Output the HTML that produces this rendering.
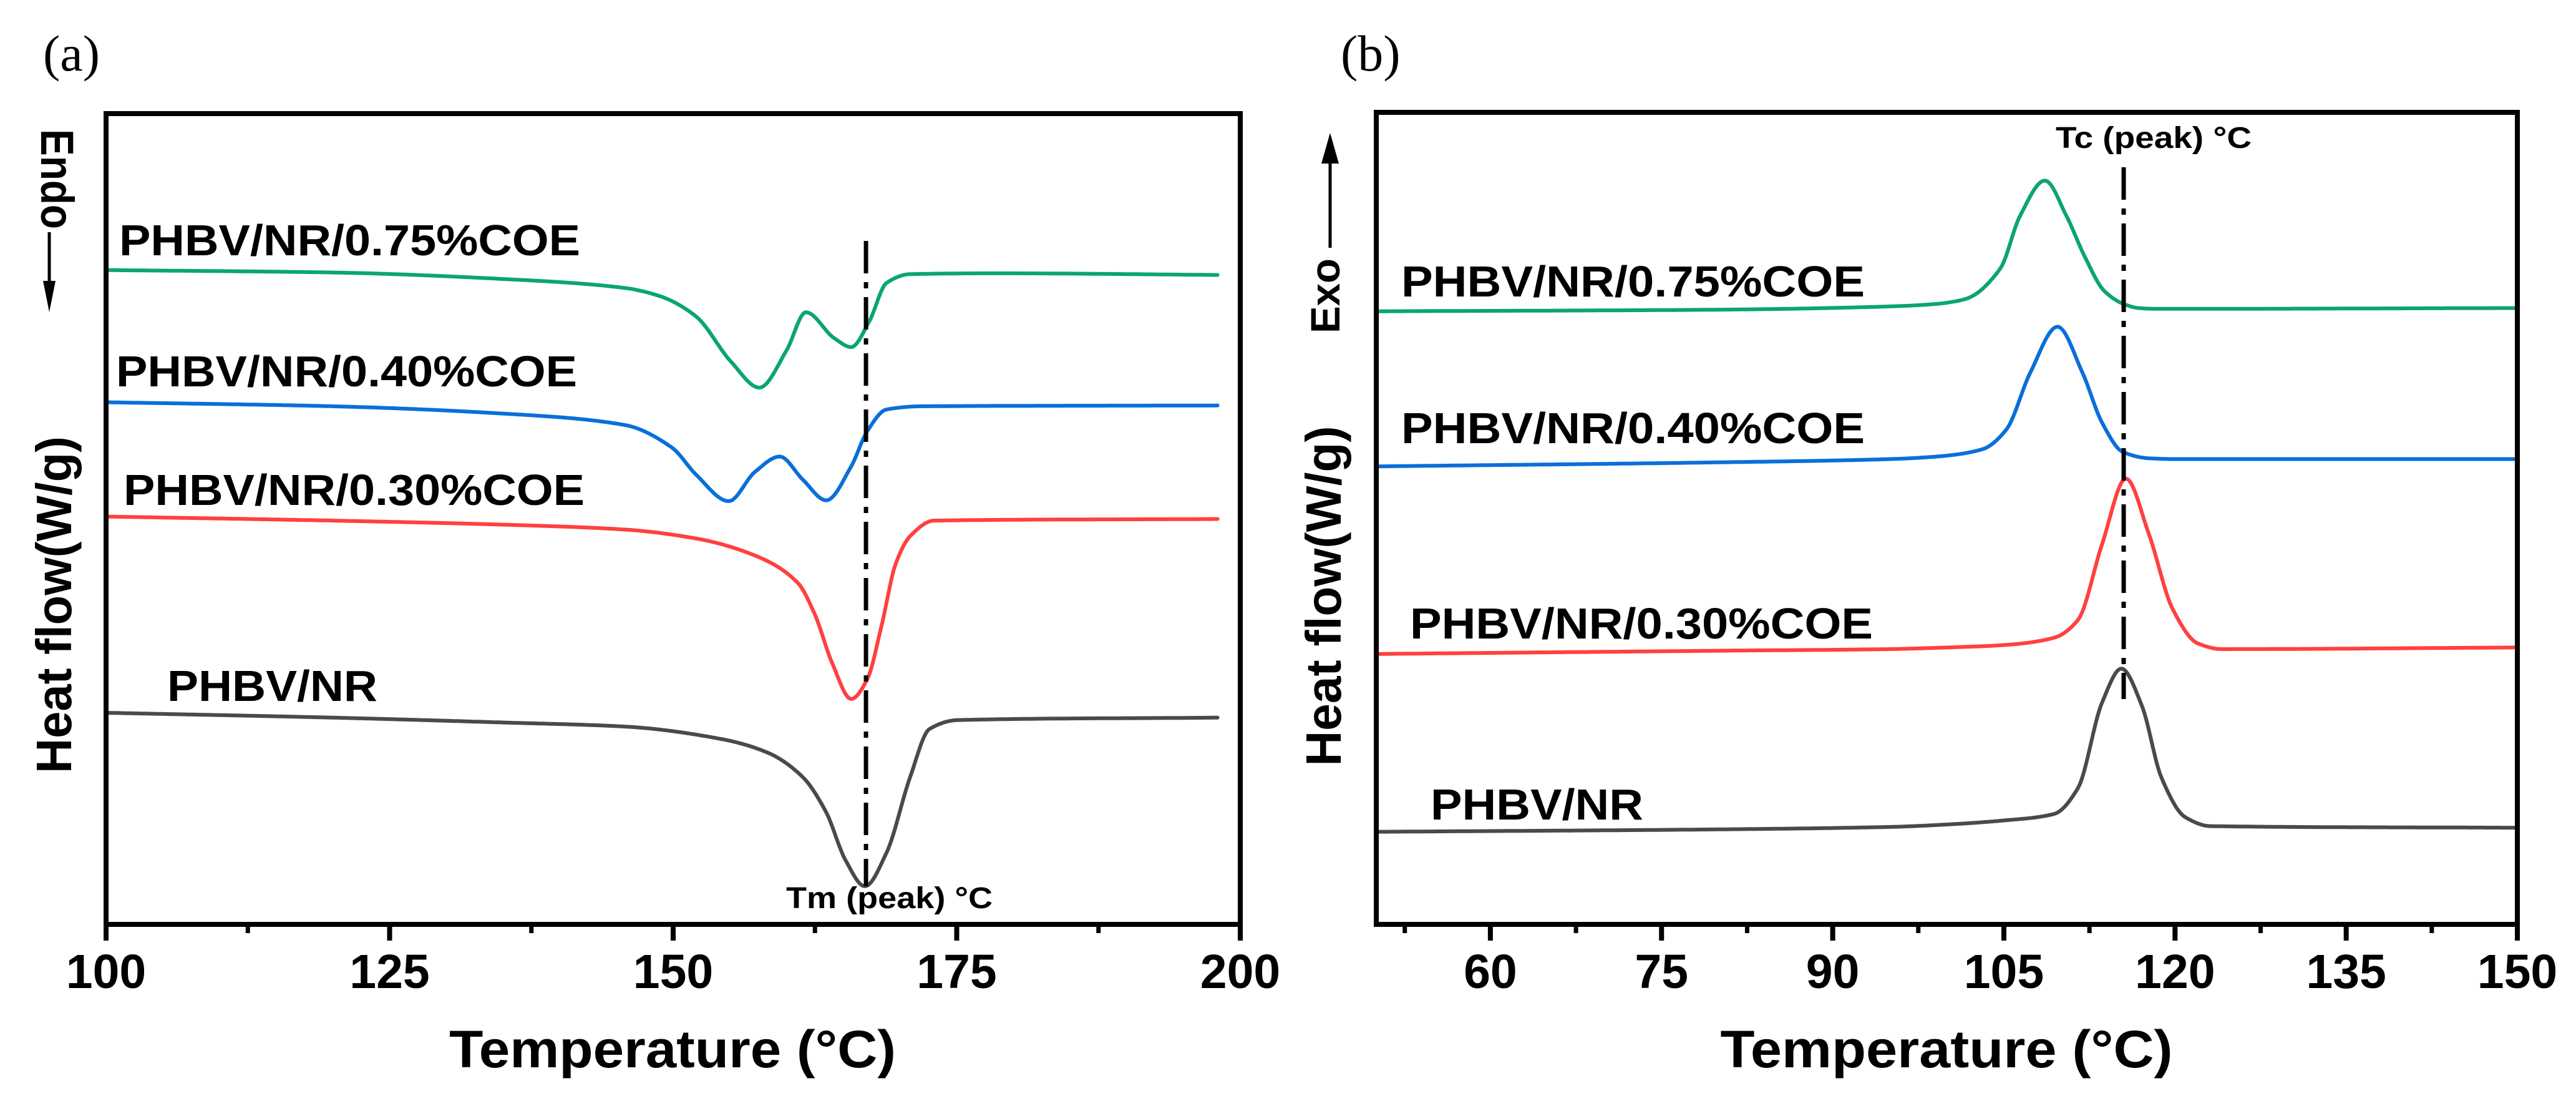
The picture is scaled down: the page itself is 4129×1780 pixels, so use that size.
<!DOCTYPE html>
<html><head><meta charset="utf-8"><style>
html,body{margin:0;padding:0;background:#fff}
svg{display:block}
text{font-family:"Liberation Sans",Arial,sans-serif;font-weight:bold;fill:#000}
</style></head><body>
<svg id="fig" width="4129" height="1780" viewBox="0 0 4129 1780" xmlns="http://www.w3.org/2000/svg">
<text x="69" y="113" style="font-family:'Liberation Serif',serif;font-weight:normal;font-size:82px">(a)</text>
<text x="2149" y="113" style="font-family:'Liberation Serif',serif;font-weight:normal;font-size:82px">(b)</text>
<g id="pa"></g>
<g id="pb"></g>
</svg>
<script>
// ---- Panel (a) melting data ----
const aTicks = [100, 125, 150, 175, 200];
const aMinor = [112.5, 137.5, 162.5, 187.5];
const aGreenT = [100, 120, 135, 145.7, 148.8, 152, 155.1, 157.6, 160, 161.7, 164.2, 165.7, 167.3, 168.8, 170.9, 178.7, 198];
const aGreenV = [80.7, 80.4, 79.6, 78.5, 77.5, 75, 69.4, 66.2, 70.8, 75.5, 72.3, 71.2, 74.4, 79.1, 80.2, 80.3, 80.1];
const aBlueT = [100, 120, 135, 145.7, 149.9, 152, 154.9, 157.2, 159.4, 161.4, 163.5, 165.7, 167.1, 168.8, 171.9, 198];
const aBlueV = [64.4, 63.9, 63.0, 61.6, 58.8, 55.5, 52.2, 55.8, 57.7, 54.9, 52.3, 56.5, 60.8, 63.5, 63.9, 64.0];
const aRedT = [100, 120, 135, 145.7, 152, 157.2, 161, 162.5, 164, 165.7, 167.1, 168.4, 169.6, 170.9, 173, 198];
const aRedV = [50.3, 49.8, 49.3, 48.7, 47.6, 45.5, 42.1, 38.2, 32.3, 27.8, 30.2, 37.0, 44.4, 47.9, 49.8, 50.0];
const aBlackT = [100, 120, 135, 145.7, 154.1, 158.3, 161.4, 163.5, 165.2, 166.9, 168.8, 170.9, 172.6, 175.1, 198];
const aBlackV = [26.1, 25.5, 24.9, 24.4, 22.9, 21.2, 18.2, 13.8, 7.9, 4.7, 8.8, 18.2, 24.1, 25.2, 25.5];
const aTm = 167;
// ---- Panel (b) crystallization data ----
const bTicks = [60, 75, 90, 105, 120, 135, 150];
const bMinor = [52.5, 67.5, 82.5, 97.5, 112.5, 127.5, 142.5];
const bGreenT = [50, 80, 95, 99, 101.6, 104.7, 106.4, 108.6, 110.5, 112.1, 113.8, 115.5, 116.8, 118.5, 150];
const bGreenV = [75.5, 75.7, 76.1, 76.4, 77.0, 80.8, 87.2, 91.6, 87.2, 82.2, 78.0, 76.4, 75.9, 75.8, 75.9];
const bBlueT = [50, 80, 95, 99, 103.1, 105.2, 107.3, 109.7, 111.9, 113.6, 115.4, 117.7, 120, 150];
const bBlueV = [56.4, 56.9, 57.3, 57.6, 58.5, 60.9, 67.9, 73.6, 67.9, 61.8, 58.2, 57.4, 57.3, 57.3];
const bRedT = [50, 80, 95, 100, 105, 109.4, 111.5, 113.6, 115.7, 117.7, 119.8, 122, 124.1, 150];
const bRedV = [33.3, 33.7, 33.9, 34.1, 34.4, 35.3, 37.5, 46.8, 54.9, 48.1, 38.8, 34.6, 33.9, 34.1];
const bBlackT = [50, 80, 95, 100, 105, 109.4, 111.5, 113.6, 115.3, 117.1, 118.8, 120.9, 123.1, 150];
const bBlackV = [11.4, 11.7, 12.0, 12.3, 12.8, 13.6, 16.8, 27.3, 31.5, 26.9, 18.1, 13.2, 12.1, 11.9];
const bTc = 115.5;

const NS = "http://www.w3.org/2000/svg";
function mk(parent, tag, attrs){const e=document.createElementNS(NS,tag);for(const k in attrs)e.setAttribute(k,attrs[k]);parent.appendChild(e);return e;}
// monotone cubic (Fritsch-Carlson) interpolation of v(t)
function monotone(ts, vs){
  const n=ts.length, d=[], m=new Array(n);
  for(let i=0;i<n-1;i++) d.push((vs[i+1]-vs[i])/(ts[i+1]-ts[i]));
  m[0]=d[0]; m[n-1]=d[n-2];
  for(let i=1;i<n-1;i++){
    if(d[i-1]*d[i]<=0) m[i]=0;
    else{const w1=2*(ts[i+1]-ts[i])+(ts[i]-ts[i-1]), w2=(ts[i+1]-ts[i])+2*(ts[i]-ts[i-1]); m[i]=(w1+w2)/(w1/d[i-1]+w2/d[i]);}
  }
  return function(t){
    let i=0; while(i<n-2 && t>ts[i+1]) i++;
    const h=ts[i+1]-ts[i], s=(t-ts[i])/h;
    const h00=2*s*s*s-3*s*s+1, h10=s*s*s-2*s*s+s, h01=-2*s*s*s+3*s*s, h11=s*s*s-s*s;
    return h00*vs[i]+h10*h*m[i]+h01*vs[i+1]+h11*h*m[i+1];
  };
}
function panel(g, o){
  const x=t=>o.x0+(t-o.t0)*(o.x1-o.x0)/(o.t1-o.t0);
  const y=v=>o.y1-v*(o.y1-o.y0)/100;
  const series=[[o.gT,o.gV,"#0aa66e","curve-075-coe"],[o.uT,o.uV,"#0a6fd8","curve-040-coe"],[o.rT,o.rV,"#ff4040","curve-030-coe"],[o.kT,o.kV,"#4a4a4a","curve-phbv-nr"]];
  series.forEach(s=>{
    const f=monotone(s[0],s[1]);
    const t0=s[0][0], t1=s[0][s[0].length-1];
    const N=600; let d="";
    for(let k=0;k<=N;k++){const t=t0+(t1-t0)*k/N; d+=(k?" L":"M")+x(t).toFixed(1)+","+y(f(t)).toFixed(1);}
    const p=mk(g,"path",{d:d,fill:"none",stroke:s[2],"stroke-width":6,"stroke-linejoin":"round","stroke-linecap":"round"});
    
    
  });
  const dl=mk(g,"line",{x1:x(o.peak),x2:x(o.peak),y1:o.dTop,y2:o.dBot,stroke:"#000","stroke-width":7,"stroke-dasharray":"52,14,10,14"});
  
  
  const fr=mk(g,"rect",{x:o.x0,y:o.y0,width:o.x1-o.x0,height:o.y1-o.y0,fill:"none",stroke:"#000","stroke-width":8});
  
  
  o.ticks.forEach(t=>{
    const l=mk(g,"line",{x1:x(t),x2:x(t),y1:o.y1,y2:o.y1+26,stroke:"#000","stroke-width":8});
    
    
    const tx=mk(g,"text",{x:x(t),y:1583,"text-anchor":"middle","font-size":77});
    tx.textContent=t;
    
    
  });
  o.minor.forEach(t=>{
    const l=mk(g,"line",{x1:x(t),x2:x(t),y1:o.y1,y2:o.y1+14,stroke:"#000","stroke-width":7});
    
    
  });
}
const pa=document.getElementById("pa"), pb=document.getElementById("pb");
panel(pa,{x0:170,x1:1988,t0:100,t1:200,y0:182,y1:1481,gT:aGreenT,gV:aGreenV,uT:aBlueT,uV:aBlueV,rT:aRedT,rV:aRedV,kT:aBlackT,kV:aBlackV,peak:aTm,dTop:386,dBot:1420,ticks:aTicks,minor:aMinor});
panel(pb,{x0:2206,x1:4035,t0:50,t1:150,y0:180,y1:1481,gT:bGreenT,gV:bGreenV,uT:bBlueT,uV:bBlueV,rT:bRedT,rV:bRedV,kT:bBlackT,kV:bBlackV,peak:bTc,dTop:268,dBot:1120,ticks:bTicks,minor:bMinor});
</script>
<div style="position:absolute;left:0;top:0;width:4129px;height:1780px;pointer-events:none">
<svg width="4129" height="1780" viewBox="0 0 4129 1780" xmlns="http://www.w3.org/2000/svg">
<style>text{font-family:"Liberation Sans",Arial,sans-serif;font-weight:bold;fill:#000}</style>
<text x="191" y="409" font-size="70" textLength="739" lengthAdjust="spacingAndGlyphs">PHBV/NR/0.75%COE</text>
<text x="186" y="619" font-size="70" textLength="739" lengthAdjust="spacingAndGlyphs">PHBV/NR/0.40%COE</text>
<text x="198" y="809" font-size="70" textLength="739" lengthAdjust="spacingAndGlyphs">PHBV/NR/0.30%COE</text>
<text x="268" y="1123" font-size="70" textLength="337" lengthAdjust="spacingAndGlyphs">PHBV/NR</text>
<text x="1260" y="1455" font-size="48" textLength="331" lengthAdjust="spacingAndGlyphs">Tm (peak) °C</text>
<text x="1078" y="1710" font-size="84" text-anchor="middle" textLength="716" lengthAdjust="spacingAndGlyphs">Temperature (°C)</text>
<text transform="translate(114,969) rotate(-90)" font-size="80" text-anchor="middle" textLength="540" lengthAdjust="spacingAndGlyphs">Heat flow(W/g)</text>
<text transform="translate(66,207) rotate(90)" font-size="74" textLength="160" lengthAdjust="spacingAndGlyphs">Endo</text>
<line x1="79" y1="372" x2="79" y2="460" stroke="#000" stroke-width="5"/>
<polygon points="69,450 89,450 79,500" fill="#000"/>
<text x="2246" y="475" font-size="70" textLength="743" lengthAdjust="spacingAndGlyphs">PHBV/NR/0.75%COE</text>
<text x="2246" y="710" font-size="70" textLength="743" lengthAdjust="spacingAndGlyphs">PHBV/NR/0.40%COE</text>
<text x="2260" y="1023" font-size="70" textLength="742" lengthAdjust="spacingAndGlyphs">PHBV/NR/0.30%COE</text>
<text x="2293" y="1313" font-size="70" textLength="341" lengthAdjust="spacingAndGlyphs">PHBV/NR</text>
<text x="3295" y="237" font-size="48" textLength="314" lengthAdjust="spacingAndGlyphs">Tc (peak) °C</text>
<text x="3120" y="1710" font-size="84" text-anchor="middle" textLength="725" lengthAdjust="spacingAndGlyphs">Temperature (°C)</text>
<text transform="translate(2149,955) rotate(-90)" font-size="80" text-anchor="middle" textLength="545" lengthAdjust="spacingAndGlyphs">Heat flow(W/g)</text>
<text transform="translate(2147,534) rotate(-90)" font-size="66" textLength="120" lengthAdjust="spacingAndGlyphs">Exo</text>
<line x1="2132" y1="255" x2="2132" y2="397" stroke="#000" stroke-width="5"/>
<polygon points="2118,262 2146,262 2132,213" fill="#000"/>
</svg></div>
</body></html>
